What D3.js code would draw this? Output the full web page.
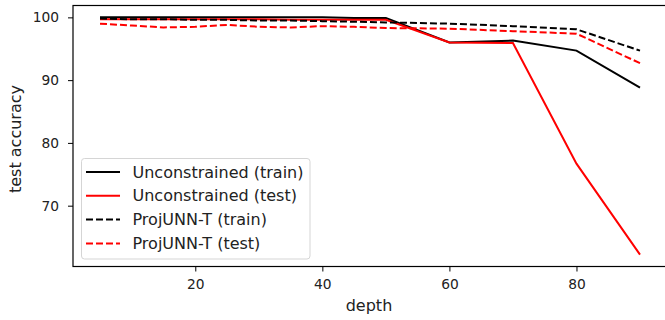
<!DOCTYPE html>
<html>
<head>
<meta charset="utf-8">
<script src="https://cdn.jsdelivr.net/npm/d3@7"></script>
<style>
  body { margin: 0; background: #fff; }
  svg text { font-family: "DejaVu Sans", sans-serif; fill: #222; }
</style>
</head>
<body>
<svg id="chart" width="665" height="320"></svg>
<script>
// network depth for each run
const depths = [5, 10, 15, 20, 25, 30, 35, 40, 45, 50, 60, 70, 80, 90];

// accuracy (%) for each depth
const unconstrainedTrain = [100.0, 100.0, 100.0, 100.0, 100.0, 100.0, 100.0, 100.0, 99.9, 99.9, 96.0, 96.3, 94.7, 88.8];
const unconstrainedTest  = [99.7, 99.7, 99.7, 99.7, 99.7, 99.7, 99.6, 99.6, 99.6, 99.6, 96.0, 95.9, 76.7, 62.2];
const projTrain          = [99.8, 99.7, 99.7, 99.6, 99.6, 99.5, 99.5, 99.4, 99.3, 99.2, 99.0, 98.6, 98.1, 94.7];
const projTest           = [99.0, 98.7, 98.4, 98.5, 98.8, 98.5, 98.4, 98.6, 98.5, 98.3, 98.2, 97.8, 97.4, 92.7];

const xTicks = [20, 40, 60, 80];
const yTicks = [70, 80, 90, 100];

const seriesNames = ["Unconstrained (train)", "Unconstrained (test)", "ProjUNN-T (train)", "ProjUNN-T (test)"];
const seriesValues = [unconstrainedTrain, unconstrainedTest, projTrain, projTest];
const seriesColors = ["#000000", "#ff0000", "#000000", "#ff0000"];
const seriesDashed = [false, false, true, true];

const svg = d3.select("#chart");
const plotLeft = 73, plotRight = 667, plotTop = 5.5, plotBottom = 266.5;
const tickFont = 13.8, labelFont = 16;

// 5% padding around the data range on both axes
const xMin = d3.min(depths), xMax = d3.max(depths);
const xPad = (xMax - xMin) * 0.05;
const allVals = seriesValues.flat();
const yMin = d3.min(allVals), yMax = d3.max(allVals);
const yPad = (yMax - yMin) * 0.05;

const x = d3.scaleLinear().domain([xMin - xPad, xMax + xPad]).range([plotLeft, plotRight]);
const y = d3.scaleLinear().domain([yMin - yPad, yMax + yPad]).range([plotBottom, plotTop]);

const plot = svg.append("g");

const line = d3.line()
  .x((d, i) => x(depths[i]))
  .y(d => y(d));

seriesValues.forEach((vals, k) => {
  plot.append("path")
    .datum(vals)
    .attr("fill", "none")
    .attr("stroke", seriesColors[k])
    .attr("stroke-width", 2)
    .attr("stroke-dasharray", seriesDashed[k] ? "7,3" : null)
    .attr("d", line);
});

// axes
const xAxis = d3.axisBottom(x).tickValues(xTicks).tickSize(5).tickPadding(7.5).tickFormat(d3.format("d"));
const yAxis = d3.axisLeft(y).tickValues(yTicks).tickSize(5).tickPadding(9).tickFormat(d3.format("d"));

const gx = svg.append("g").attr("transform", `translate(0,${plotBottom})`).call(xAxis);
const gy = svg.append("g").attr("transform", `translate(${plotLeft},0)`).call(yAxis);
[gx, gy].forEach(g => {
  g.select(".domain").remove();
  g.selectAll(".tick line").attr("stroke", "#000").attr("stroke-width", 1);
  g.selectAll(".tick text").attr("font-size", tickFont).attr("fill", "#222")
    .style("font-family", "'DejaVu Sans', sans-serif");
});

// frame
svg.append("rect")
  .attr("x", plotLeft).attr("y", plotTop)
  .attr("width", plotRight - plotLeft).attr("height", plotBottom - plotTop)
  .attr("fill", "none").attr("stroke", "#000").attr("stroke-width", 1.2);

// axis titles
svg.append("text")
  .attr("x", 369).attr("y", 311)
  .attr("text-anchor", "middle").attr("font-size", labelFont)
  .text("depth");
svg.append("text")
  .attr("transform", "translate(21,139) rotate(-90)")
  .attr("text-anchor", "middle").attr("font-size", labelFont)
  .text("test accuracy");

// legend
const lg = svg.append("g").attr("transform", "translate(81.5,158.5)");
lg.append("rect")
  .attr("width", 228.5).attr("height", 100.5)
  .attr("rx", 3).attr("ry", 3)
  .attr("fill", "#fff").attr("fill-opacity", 0.8)
  .attr("stroke", "#d5d5d5").attr("stroke-width", 1);
seriesNames.forEach((name, k) => {
  const cy = 13.5 + k * 23.8;
  lg.append("line")
    .attr("x1", 4.5).attr("x2", 38.5).attr("y1", cy).attr("y2", cy)
    .attr("stroke", seriesColors[k]).attr("stroke-width", 2)
    .attr("stroke-dasharray", seriesDashed[k] ? "7,3" : null);
  lg.append("text")
    .attr("x", 51).attr("y", cy).attr("dy", "0.35em")
    .attr("font-size", labelFont)
    .text(name);
});
</script>
</body>
</html>
